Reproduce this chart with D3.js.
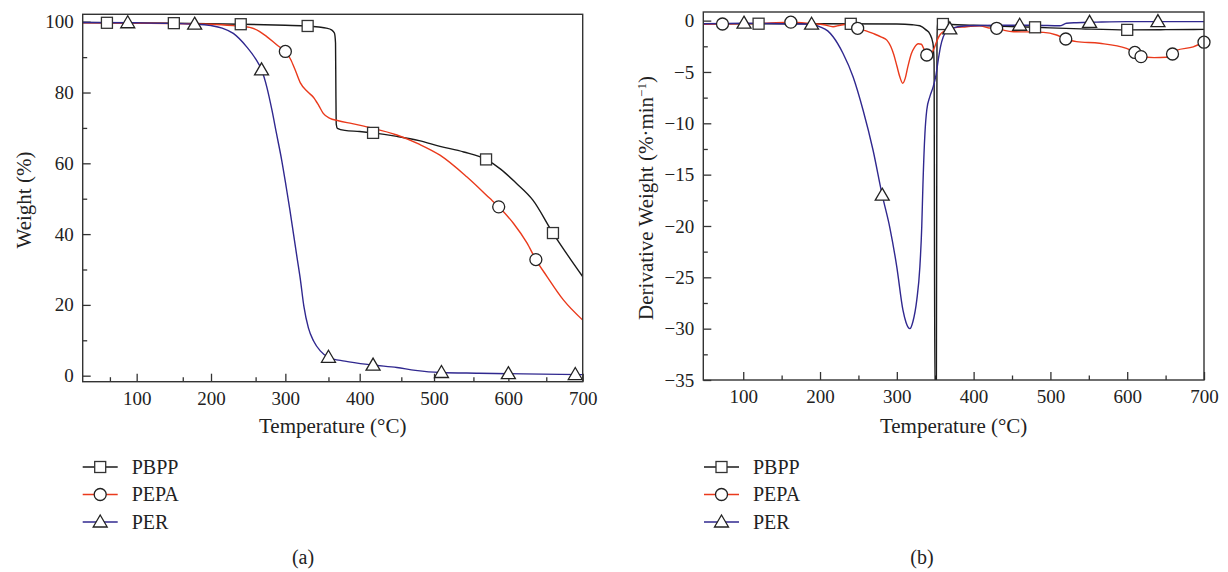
<!DOCTYPE html>
<html>
<head>
<meta charset="utf-8">
<script src="https://cdn.jsdelivr.net/npm/d3@7"></script>
<style>
  html, body { margin: 0; padding: 0; background: #fff; }
  svg { display: block; }
  text { font-family: "Liberation Serif", "Times New Roman", serif; fill: #222; }
</style>
</head>
<body>
<svg id="chart" width="1228" height="572"></svg>
<script>
// ---------- DATA ----------
const seriesNames = ["PBPP", "PEPA", "PER"];
const seriesColors = ["#1a1a1a", "#ea3a1c", "#30288f"];

// (a) TGA: weight (%) vs temperature (°C)
const pbppWeight = [[27,99.8],[60,99.7],[150,99.6],[240,99.3],[300,99.0],[330,98.8],[345,98.5],[355,98.2],[362,97.7],[366,96.8],[367.5,94],[368,80],[368.5,71],[370,69.9],[380,69.3],[400,69.0],[418,68.6],[450,67.6],[480,66.4],[508,64.8],[540,63.2],[570,61.1],[590,58.3],[610,54.5],[633,49.6],[660,40.3],[680,34],[700,28]];
const pepaWeight = [[27,99.7],[100,99.6],[200,99.3],[230,98.9],[252,98.4],[265,97.3],[275,95.8],[290,93.2],[300,91.6],[307,89.4],[313,86.5],[320,82.8],[330,80.2],[338,78.6],[345,76.3],[351,74.1],[360,72.7],[370,72.1],[390,71.2],[418,69.9],[450,68.0],[480,65.4],[508,62.3],[544,56.2],[575,50.1],[587,47.7],[607,43.0],[625,37.5],[637,32.8],[652,28.0],[674,21.4],[700,15.7]];
const perWeight = [[27,99.8],[100,99.7],[180,99.3],[200,98.9],[215,98.2],[230,96.7],[248,92.9],[260,89.5],[268,86.4],[275,81.6],[282,75],[288,68.5],[295,61],[301,53.5],[306,47],[311,40],[316,33],[320,27.5],[325,19.5],[331,13.5],[338,9.8],[347,7],[358,5.2],[380,4.1],[418,3.0],[450,2.3],[475,1.5],[508,0.9],[560,0.7],[620,0.5],[700,0.3]];
const pbppMarkersA = [60,150,240,330,418,570,660];
const pepaMarkersA = [300,587,637];
const perMarkersA = [88,178,268,358,418,510,600,690];

// (b) DTG: derivative weight (%/min) vs temperature (°C)
const pbppDeriv = [[48,-0.3],[100,-0.3],[200,-0.3],[300,-0.33],[320,-0.4],[330,-0.5],[338,-0.9],[343,-1.3],[347,-2.2],[348.5,-4],[349.5,-36],[351.5,-36],[352.3,-2],[353,-0.2],[356,-0.3],[360,-0.33],[400,-0.45],[480,-0.65],[540,-0.8],[600,-0.9],[650,-0.88],[700,-0.85]];
const pepaDeriv = [[48,-0.35],[73,-0.33],[100,-0.3],[130,-0.25],[162,-0.15],[190,-0.3],[205,-0.4],[217,-0.6],[226,-0.45],[235,-0.35],[249,-0.75],[260,-1.0],[269,-1.25],[280,-1.6],[287,-1.9],[292,-2.5],[296,-3.3],[300,-4.4],[304,-5.5],[307.6,-6.1],[311,-5.6],[314,-4.6],[319,-3.2],[323,-2.6],[328,-2.25],[332,-2.3],[336,-2.9],[339,-3.35],[343,-3.3],[348,-2.8],[352,-2.0],[356,-1.4],[362,-1.0],[369,-0.75],[391,-0.6],[408,-0.5],[420,-0.72],[430,-0.75],[440,-0.95],[452,-1.08],[470,-1.1],[491,-1.14],[508,-1.4],[520,-1.79],[534,-2.05],[564,-2.21],[599,-2.7],[610,-3.1],[617,-3.5],[635,-3.6],[651,-3.57],[659,-3.25],[664,-2.9],[686,-2.55],[700,-2.1]];
const perDeriv = [[48,-0.3],[101,-0.25],[150,-0.3],[189,-0.35],[200,-0.6],[210,-1.0],[217,-1.57],[230,-3.2],[243,-5.46],[256,-8.7],[269,-12.6],[281,-17],[291,-20.2],[300,-24],[308,-28.2],[312,-29.4],[317,-30],[321,-29.3],[326,-27.2],[330,-24],[332.5,-20],[334,-16],[336.6,-11],[339,-8.7],[343,-7.4],[347.5,-6.4],[351,-5.3],[354,-3.8],[357,-2.5],[360.5,-1.57],[365,-1.0],[369,-0.8],[391,-0.5],[430,-0.45],[480,-0.45],[512,-0.5],[521,-0.26],[534,-0.2],[560,-0.15],[600,-0.1],[640,-0.1],[700,-0.1]];
const pbppMarkersB = [120,240,360,480,600];
const pepaMarkersB = [73,162,249,339,430,520,610,618,659,700];
const perMarkersB = [101,189,281,369,460,551,640];

// ticks
const tempTicks = [100,200,300,400,500,600,700];
const tempMinorA = [64,162,260,358,456,553,651];
const tempMinorB = [150,250,350,450,550,650];
const weightTicks = [0,20,40,60,80,100];
const weightMinor = [10,30,50,70,90];
const derivTicks = [0,-5,-10,-15,-20,-25,-30,-35];
const derivMinor = [-2.5,-7.5,-12.5,-17.5,-22.5,-27.5,-32.5];

// ---------- DRAW ----------
const svg = d3.select("#chart");

function interp(data, x) {
  const i = d3.bisector(d => d[0]).left(data, x);
  if (i <= 0) return data[0][1];
  if (i >= data.length) return data[data.length - 1][1];
  const a = data[i - 1], b = data[i];
  const t = (x - a[0]) / (b[0] - a[0]);
  return a[1] + t * (b[1] - a[1]);
}

function drawMarker(g, shape, x, y) {
  if (shape === 0) {
    g.append("rect").attr("x", x - 5.5).attr("y", y - 5.5).attr("width", 11).attr("height", 11)
      .attr("fill", "#fff").attr("stroke", "#333").attr("stroke-width", 1.3);
  } else if (shape === 1) {
    g.append("circle").attr("cx", x).attr("cy", y).attr("r", 6)
      .attr("fill", "#fff").attr("stroke", "#222").attr("stroke-width", 1.3);
  } else {
    const w = 7, h = 12;
    g.append("path").attr("d", `M${x},${y - h/2 - 1}L${x + w},${y + h/2 - 1}L${x - w},${y + h/2 - 1}Z`)
      .attr("fill", "#fff").attr("stroke", "#222").attr("stroke-width", 1.3);
  }
}

function panel(cfg) {
  const g = svg.append("g");
  const x = d3.scaleLinear().domain(cfg.xDomain).range([cfg.left, cfg.right]);
  const y = d3.scaleLinear().domain(cfg.yDomain).range([cfg.bottom, cfg.top]);

  const clipId = "clip" + cfg.id;
  svg.append("clipPath").attr("id", clipId).append("rect")
    .attr("x", cfg.left).attr("y", cfg.top)
    .attr("width", cfg.right - cfg.left).attr("height", cfg.bottom - cfg.top);

  // axes (inward ticks)
  const xAxis = g.append("g").attr("transform", `translate(0,${cfg.bottom})`)
    .call(d3.axisBottom(x).tickValues(cfg.xTicks).tickSize(-8).tickPadding(10).tickFormat(d3.format("d")));
  xAxis.select(".domain").remove();
  const xMinor = g.append("g").attr("transform", `translate(0,${cfg.bottom})`)
    .call(d3.axisBottom(x).tickValues(cfg.xMinor).tickSize(-4.5).tickFormat(""));
  xMinor.select(".domain").remove();

  const yAxis = g.append("g").attr("transform", `translate(${cfg.left},0)`)
    .call(d3.axisLeft(y).tickValues(cfg.yTicks).tickSize(-8).tickPadding(9).tickFormat(cfg.yFormat));
  yAxis.select(".domain").remove();
  const yMinor = g.append("g").attr("transform", `translate(${cfg.left},0)`)
    .call(d3.axisLeft(y).tickValues(cfg.yMinor).tickSize(-4.5).tickFormat(""));
  yMinor.select(".domain").remove();

  g.selectAll(".tick line").attr("stroke", "#333").attr("stroke-width", 1.3);
  g.selectAll(".tick text").style("font-family", "'Liberation Serif', serif").style("font-size", "19px").attr("fill", "#222");

  // lines
  const line = d3.line().x(d => x(d[0])).y(d => y(d[1])).curve(d3.curveMonotoneX);
  const plot = g.append("g").attr("clip-path", `url(#${clipId})`);
  cfg.series.forEach((s, i) => {
    plot.append("path").datum(s).attr("d", line).attr("fill", "none")
      .attr("stroke", seriesColors[i]).attr("stroke-width", 1.4).attr("stroke-linejoin", "round");
  });
  // markers
  const mk = g.append("g");
  cfg.markers.forEach((m, i) => {
    m.forEach(t => drawMarker(mk, i, x(t), y(interp(cfg.series[i], t))));
  });

  // frame
  g.append("rect").attr("x", cfg.left).attr("y", cfg.top)
    .attr("width", cfg.right - cfg.left).attr("height", cfg.bottom - cfg.top)
    .attr("fill", "none").attr("stroke", "#333").attr("stroke-width", 1.4);

  // axis titles
  g.append("text").attr("x", (cfg.left + cfg.right) / 2 + cfg.xTitleShift).attr("y", 433)
    .attr("text-anchor", "middle").style("font-size", "21px").text("Temperature (°C)");
  const yt = g.append("text").attr("transform", `translate(${cfg.yTitleX},${cfg.yTitleY}) rotate(-90)`)
    .attr("text-anchor", "middle").style("font-size", "21px");
  cfg.yTitle(yt);

  // legend
  const lg = g.append("g");
  seriesNames.forEach((n, i) => {
    const yy = cfg.legendY + i * 27.5;
    lg.append("line").attr("x1", cfg.legendX).attr("x2", cfg.legendX + 35).attr("y1", yy).attr("y2", yy)
      .attr("stroke", seriesColors[i]).attr("stroke-width", 1.4);
    drawMarker(lg, i, cfg.legendX + 17.5, yy);
    lg.append("text").attr("x", cfg.legendX + 49).attr("y", yy + 6.5).style("font-size", "20px").text(n);
  });
  g.append("text").attr("x", cfg.captionX).attr("y", 564).attr("text-anchor", "middle")
    .style("font-size", "20px").text(cfg.caption);
}

panel({
  id: "a", left: 82.7, right: 582.7, top: 14.3, bottom: 381.7,
  xDomain: [27.4, 700], yDomain: [-1.7, 102.1],
  xTicks: tempTicks, xMinor: tempMinorA, yTicks: weightTicks, yMinor: weightMinor,
  yFormat: d3.format("d"),
  series: [pbppWeight, pepaWeight, perWeight],
  markers: [pbppMarkersA, pepaMarkersA, perMarkersA],
  xTitleShift: 0,
  yTitleX: 31, yTitleY: 200,
  yTitle: t => t.text("Weight (%)"),
  legendX: 82.7, legendY: 467, captionX: 303, caption: "(a)"
});

panel({
  id: "b", left: 703.3, right: 1204, top: 12, bottom: 380,
  xDomain: [48, 700], yDomain: [-35, 0.84],
  xTicks: tempTicks, xMinor: tempMinorB, yTicks: derivTicks, yMinor: derivMinor,
  yFormat: d3.format("d"),
  series: [pbppDeriv, pepaDeriv, perDeriv],
  markers: [pbppMarkersB, pepaMarkersB, perMarkersB],
  xTitleShift: 0,
  yTitleX: 653, yTitleY: 198,
  yTitle: t => {
    t.append("tspan").text("Derivative Weight (%·min");
    t.append("tspan").attr("dy", -7).style("font-size", "13px").text("−1");
    t.append("tspan").attr("dy", 7).text(")");
  },
  legendX: 704, legendY: 467, captionX: 922, caption: "(b)"
});
</script>
</body>
</html>
